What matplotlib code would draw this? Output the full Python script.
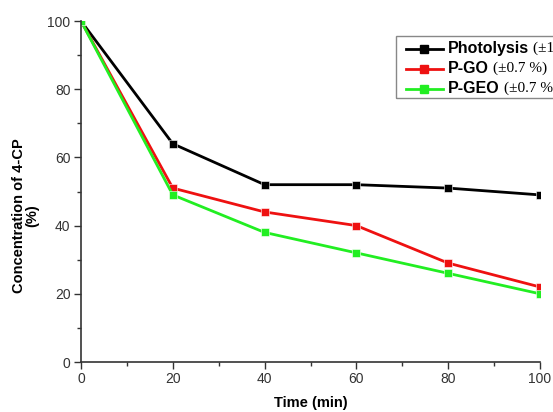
import matplotlib
matplotlib.use('Agg')
import matplotlib.pyplot as plt
from matplotlib.lines import Line2D
from matplotlib.patches import Rectangle
from matplotlib.ticker import MultipleLocator

# data: 4-CP concentration vs time
time_min = [0, 20, 40, 60, 80, 100]
photolysis = [100, 64, 52, 52, 51, 49]
p_go = [100, 51, 44, 40, 29, 22]
p_geo = [100, 49, 38, 32, 26, 20]

names = ['Photolysis', 'P-GO', 'P-GEO']
errs = ['(\u00b11.0 %)', '(\u00b10.7 %)', '(\u00b10.7 %)']
colors = ['#000000', '#ee1111', '#22ee22']

plt.rcParams['font.family'] = ['Liberation Sans', 'DejaVu Sans']

fig = plt.figure(figsize=(5.53, 4.12), dpi=100)
ax = fig.add_axes([81/553, 50/412, 459/553, 341/412])

for ys, c in zip([photolysis, p_go, p_geo], colors):
    ax.plot(time_min, ys, color=c, lw=2, marker='s', ms=6,
            mec='white', mew=0.4)

ax.set_xlim(0, 100)
ax.set_ylim(0, 100)
ax.xaxis.set_major_locator(MultipleLocator(20))
ax.xaxis.set_minor_locator(MultipleLocator(10))
ax.yaxis.set_major_locator(MultipleLocator(20))
ax.yaxis.set_minor_locator(MultipleLocator(10))
ax.tick_params(which='major', direction='out', length=5, width=1, pad=2.5,
               labelsize=10, colors='#333333')
ax.tick_params(which='minor', direction='out', length=3, width=1, colors='#333333')
for s in ['top', 'right']:
    ax.spines[s].set_visible(False)
for s in ['left', 'bottom']:
    ax.spines[s].set_color('#333333')
    ax.spines[s].set_linewidth(1.2)

ax.set_xlabel('Time (min)', fontsize=10.5, fontweight='bold')
ax.xaxis.set_label_coords(0.5, -0.1)
ax.set_ylabel('Concentration of 4-CP\n(%)', fontsize=10.5, fontweight='bold',
              linespacing=1.0)
ax.yaxis.set_label_coords(-0.09, 0.43)

# hand-built legend so the error part can be set in a serif face
fig.patches.append(Rectangle((396/553, 1 - 98/412), 200/553, 62/412,
                             transform=fig.transFigure, fill=False,
                             edgecolor='#888888', lw=1))
rows = [48.5, 68.5, 88.5]
fig.canvas.draw()
r = fig.canvas.get_renderer()
for yp, n, e, c in zip(rows, names, errs, colors):
    yf = 1 - yp/412
    fig.lines.append(Line2D([406/553, 443/553], [yf, yf], color=c, lw=2,
                            transform=fig.transFigure))
    fig.lines.append(Line2D([424/553], [yf], color=c, marker='s', ms=6,
                            transform=fig.transFigure))
    t = fig.text(448/553, yf, n, fontsize=11.5, fontweight='bold', va='center')
    bb = t.get_window_extent(renderer=r)
    fig.text(bb.x1/553 + 4/553, yf, e, fontsize=11, va='center',
             family=['Liberation Serif', 'DejaVu Serif'])

fig.savefig('out.png', dpi=100)
